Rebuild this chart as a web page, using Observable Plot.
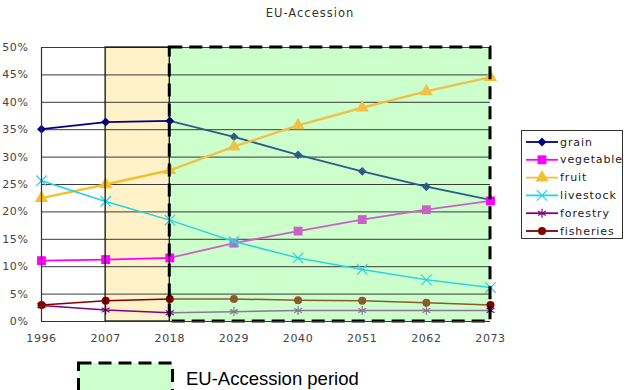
<!DOCTYPE html>
<html>
<head>
<meta charset="utf-8">
<script src="https://cdn.jsdelivr.net/npm/d3@7"></script>
<script src="https://cdn.jsdelivr.net/npm/@observablehq/plot@0.6"></script>
<style>
  body { margin: 0; background: #fff; }
  #chart svg { display: block; }
</style>
</head>
<body>
<div id="chart"></div>
<script>
// Projected shares (%) by sector
const years = [1996, 2007, 2018, 2029, 2040, 2051, 2062, 2073];
const grain = [35.1, 36.4, 36.6, 33.7, 30.4, 27.4, 24.6, 22.2];
const vegetable = [11.1, 11.3, 11.6, 14.3, 16.5, 18.6, 20.4, 22.0];
const fruit = [22.5, 25.0, 27.6, 31.9, 35.8, 39.0, 42.0, 44.6];
const livestock = [25.7, 21.9, 18.5, 14.6, 11.6, 9.5, 7.6, 6.2];
const forestry = [2.9, 2.1, 1.6, 1.8, 2.0, 2.0, 2.0, 2.0];
const fisheries = [3.0, 3.8, 4.1, 4.1, 3.9, 3.8, 3.4, 3.0];

const yTicks = [0, 5, 10, 15, 20, 25, 30, 35, 40, 45, 50];
const transitionPeriod = [2007, 2018];
const accessionPeriod = [2018, 2073];

const chartTitle = "EU-Accession";
const periodLabel = "EU-Accession period";

// name, values, symbol, colour, colour inside the shaded accession band, marker radius, line width
const series = [
  {name: "grain", values: grain, symbol: "diamond2", color: "#000080", shaded: "#2E5A88", r: 4, w: 1.8, filled: true},
  {name: "vegetable", values: vegetable, symbol: "square", color: "#FF00FF", shaded: "#C862C8", r: 5, w: 1.8, filled: true},
  {name: "fruit", values: fruit, symbol: "triangle", color: "#F2C12E", shaded: "#EEC24A", r: 4.9, w: 2.4, filled: true},
  {name: "livestock", values: livestock, symbol: "times", color: "#1FD3E6", shaded: "#2AD6E0", r: 4.8, w: 1.5, filled: false},
  {name: "forestry", values: forestry, symbol: "asterisk", color: "#800080", shaded: "#8A7896", r: 4.3, w: 1.5, filled: false},
  {name: "fisheries", values: fisheries, symbol: "circle", color: "#800000", shaded: "#8B5A2B", r: 4, w: 1.5, filled: true}
];

const rows = series.flatMap(s => years.map((year, i) => ({
  series: s.name, year, value: s.values[i],
  inBand: year > accessionPeriod[0] && year < accessionPeriod[1]
})));

const W = 624, H = 390;
const yMin = () => yTicks[0];
const yMax = () => yTicks[yTicks.length - 1];

const marks = [
  // shaded periods
  Plot.rect([transitionPeriod], {x1: d => d[0], x2: d => d[1], y1: yMin, y2: yMax, fill: "#FFF2C9"}),
  Plot.rect([accessionPeriod], {x1: d => d[0], x2: d => d[1], y1: yMin, y2: yMax, fill: "#CCFFCC"}),
  // horizontal gridlines
  Plot.ruleY(yTicks, {stroke: "#3a3a3a", strokeWidth: 1})
];

for (const s of series) {
  const data = rows.filter(d => d.series === s.name);
  const before = data.filter(d => d.year <= accessionPeriod[0]);
  const after = data.filter(d => d.year >= accessionPeriod[0]);
  marks.push(
    Plot.line(before, {x: "year", y: "value", stroke: s.color, strokeWidth: s.w}),
    Plot.line(after, {x: "year", y: "value", stroke: s.shaded, strokeWidth: s.w})
  );
  const colorOf = d => d.inBand ? s.shaded : s.color;
  marks.push(Plot.dot(data, s.filled
    ? {x: "year", y: "value", symbol: () => s.symbol, r: s.r, fill: colorOf, stroke: "none"}
    : {x: "year", y: "value", symbol: () => s.symbol, r: s.r, fill: "none", stroke: colorOf, strokeWidth: 1.2}));
}

marks.push(
  // period borders
  Plot.rect([transitionPeriod], {x1: d => d[0], x2: d => d[1], y1: yMin, y2: yMax, fill: "none", stroke: "#111", strokeWidth: 1.3}),
  Plot.rect([accessionPeriod], {x1: d => d[0], x2: d => d[1], y1: yMin, y2: yMax, fill: "none", stroke: "#000", strokeWidth: 3, strokeDasharray: "13,7"}),
  // left and bottom axis lines
  Plot.ruleX([years[0]], {stroke: "#333", strokeWidth: 1.2}),
  Plot.ruleY([yTicks[0]], {stroke: "#333", strokeWidth: 1.2}),
  Plot.axisX(years, {tickSize: 0, tickPadding: 13, tickFormat: d => String(d), fill: "#444", label: null}),
  Plot.axisY(yTicks, {tickSize: 0, tickPadding: 13, tickFormat: d => d + "%", fill: "#444", label: null})
);

const chart = Plot.plot({
  width: W,
  height: H,
  marginLeft: 41,
  marginRight: W - 490,
  marginTop: 47,
  marginBottom: H - 321,
  style: {fontFamily: "DejaVu Sans, sans-serif", fontSize: "11px", background: "#fff", overflow: "visible"},
  x: {type: "linear", domain: [years[0], years[years.length - 1]], label: null},
  y: {domain: [yTicks[0], yTicks[yTicks.length - 1]], label: null},
  symbol: {type: "identity"},
  marks
});

document.getElementById("chart").append(chart);

// Title, series key and period key
const svg = d3.select(chart);
svg.selectAll("g[aria-label='x-axis tick label'] text, g[aria-label='y-axis tick label'] text")
  .style("letter-spacing", "0.6px");

svg.append("text")
  .attr("x", 310).attr("y", 13)
  .attr("text-anchor", "middle").attr("dominant-baseline", "central")
  .attr("font-family", "DejaVu Sans, sans-serif").attr("font-size", 11.5)
  .attr("letter-spacing", "1px").attr("fill", "#333")
  .text(chartTitle);

const symbolTypes = {
  diamond2: d3.symbolDiamond2, square: d3.symbolSquare, triangle: d3.symbolTriangle,
  times: d3.symbolTimes, asterisk: d3.symbolAsterisk, circle: d3.symbolCircle
};

const key = svg.append("g").attr("transform", "translate(521,130)");
key.append("rect").attr("x", 0.5).attr("y", 0.5).attr("width", 101).attr("height", 108)
  .attr("fill", "#fff").attr("stroke", "#333").attr("stroke-width", 1);
series.forEach((s, i) => {
  const cy = 12 + i * 17.8;
  const g = key.append("g");
  g.append("line").attr("x1", 5).attr("x2", 37).attr("y1", cy).attr("y2", cy)
    .attr("stroke", s.color).attr("stroke-width", 1.8);
  g.append("path")
    .attr("transform", `translate(21,${cy})`)
    .attr("d", d3.symbol(symbolTypes[s.symbol], Math.PI * s.r * s.r)())
    .attr("fill", s.filled ? s.color : "none")
    .attr("stroke", s.filled ? "none" : s.color).attr("stroke-width", 1.2);
  g.append("text").attr("x", 39).attr("y", cy)
    .attr("text-anchor", "start").attr("dominant-baseline", "central")
    .attr("font-family", "DejaVu Sans, sans-serif").attr("font-size", 11)
    .attr("letter-spacing", "0.9px").attr("fill", "#222")
    .text(s.name);
});

const periodKey = svg.append("g");
periodKey.append("rect").attr("x", 78.5).attr("y", 363).attr("width", 94).attr("height", 40)
  .attr("fill", "#CCFFCC").attr("stroke", "#000").attr("stroke-width", 3)
  .attr("stroke-dasharray", "13,7");
periodKey.append("text").attr("x", 186).attr("y", 378)
  .attr("text-anchor", "start").attr("dominant-baseline", "central")
  .attr("font-family", "Liberation Sans, Arial, sans-serif").attr("font-size", 18.5)
  .attr("fill", "#000")
  .text(periodLabel);
</script>
</body>
</html>
